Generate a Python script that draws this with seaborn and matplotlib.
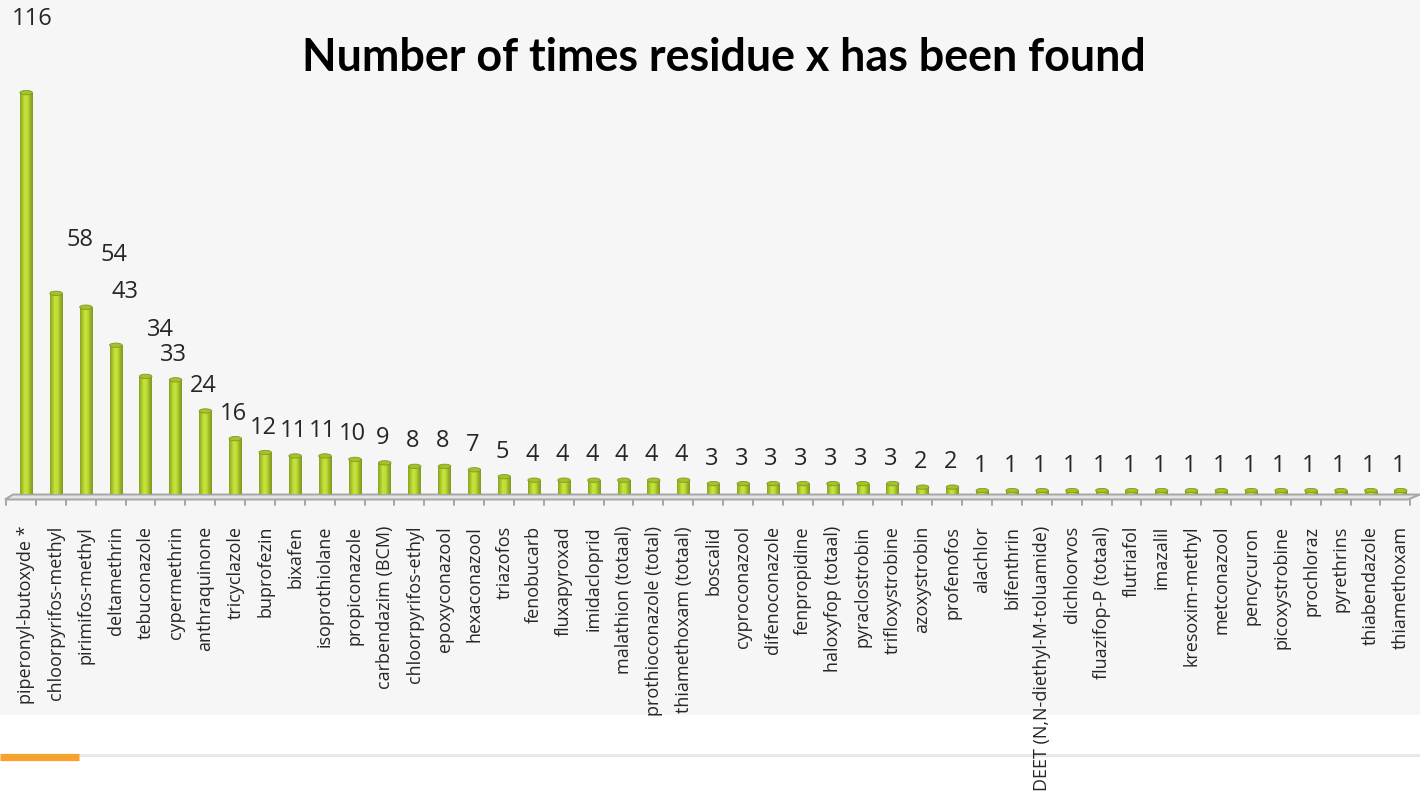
import numpy as np
import pandas as pd
import matplotlib
matplotlib.use("Agg")
import matplotlib.pyplot as plt
from matplotlib.colors import LinearSegmentedColormap
from matplotlib.patches import Ellipse, Polygon, Rectangle
from matplotlib.lines import Line2D
import seaborn as sns

residues = [
    "piperonyl-butoxyde *", "chloorpyrifos-methyl", "pirimifos-methyl", "deltamethrin",
    "tebuconazole", "cypermethrin", "anthraquinone", "tricyclazole", "buprofezin",
    "bixafen", "isoprothiolane", "propiconazole", "carbendazim (BCM)",
    "chloorpyrifos-ethyl", "epoxyconazool", "hexaconazool", "triazofos", "fenobucarb",
    "fluxapyroxad", "imidacloprid", "malathion (totaal)", "prothioconazole (total)",
    "thiamethoxam (totaal)", "boscalid", "cyproconazool", "difenoconazole",
    "fenpropidine", "haloxyfop (totaal)", "pyraclostrobin", "trifloxystrobine",
    "azoxystrobin", "profenofos", "alachlor", "bifenthrin",
    "DEET (N,N-diethyl-M-toluamide)", "dichloorvos", "fluazifop-P (totaal)",
    "flutriafol", "imazalil", "kresoxim-methyl", "metconazool", "pencycuron",
    "picoxystrobine", "prochloraz", "pyrethrins", "thiabendazole", "thiamethoxam",
]
counts = [
    116, 58, 54, 43, 34, 33, 24, 16, 12, 11, 11, 10, 9, 8, 8, 7, 5,
    4, 4, 4, 4, 4, 4,
    3, 3, 3, 3, 3, 3, 3,
    2, 2,
    1, 1, 1, 1, 1, 1, 1, 1, 1, 1, 1, 1, 1, 1, 1,
]
title = "Number of times residue x has been found"

df = pd.DataFrame({"residue": residues, "count": counts})

sns.set_theme(style="white")
plt.rcParams["font.family"] = ["Open Sans", "DejaVu Sans"]

W, H = 1420, 791
fig = plt.figure(figsize=(W / 100, H / 100), dpi=100, facecolor="white")

# light panel behind the chart, plus the footer rule
fig.patches.append(Rectangle((0, 76 / H), 1, 1 - 76 / H, transform=fig.transFigure,
                             facecolor="#f6f6f6", edgecolor="none", zorder=-10))
fig.lines.append(Line2D([78 / W, 1], [1 - 755 / H] * 2, transform=fig.transFigure,
                        color="#e6e8ec", lw=2.2, zorder=-5))
fig.lines.append(Line2D([0, 79 / W], [1 - 756.5 / H] * 2, transform=fig.transFigure,
                        color="#f7a12f", lw=5.2, solid_capstyle="butt", zorder=-5))

n = len(residues)
step_px = 29.88
px_per_unit = 3.46
y_lo, y_hi = -4, 125
x0_px = 26.2 - 0.5 * step_px
ax = fig.add_axes([x0_px / W,
                   (H - (494 - y_lo * px_per_unit)) / H,
                   n * step_px / W,
                   (y_hi - y_lo) * px_per_unit / H])
ax.set_facecolor("none")

sns.barplot(data=df, x="residue", y="count", color="#b8d934", width=0.42,
            saturation=1, ax=ax, zorder=3)

# cylinder shading: horizontal gradient clipped to each bar, elliptical cap on top
cyl = LinearSegmentedColormap.from_list(
    "cyl", ["#86a022", "#a9c92c", "#c9e63f", "#bedc35", "#98b527", "#7f9820"])
grad = np.linspace(0, 1, 64).reshape(1, -1)
for p in list(ax.patches):
    x = p.get_x()
    w = p.get_width()
    h = p.get_height()
    p.set_edgecolor("none")
    im = ax.imshow(grad, extent=[x, x + w, 0, h], aspect="auto", cmap=cyl,
                   origin="lower", zorder=3.1, interpolation="bicubic")
    im.set_clip_path(p)
    ax.add_patch(Ellipse((x + w / 2, h), w, 1.25, facecolor="#a4c22c",
                         edgecolor="#7f9a22", lw=0.6, zorder=3.3))

# value labels above each cylinder; the tallest few are pushed aside
nudge = {0: (0.2, 14.0), 1: (0.8, 8.1), 2: (0.95, 8.0), 3: (0.31, 8.1), 4: (0.5, 6.1)}
for i, v in enumerate(counts):
    dx, dy = nudge.get(i, (-0.07, 0.0))
    ax.text(i + dx, v + 7.2 + dy, str(v), ha="center", va="center",
            fontsize=17, color="#262626", clip_on=False, zorder=5)

# floor of the category axis
def px_x(px):
    return (px - 26.2) / step_px

def px_y(py):
    return (494 - py) / px_per_unit

back_y, front_y, tick_y = px_y(494.5), px_y(499.5), px_y(504.5)
floor = Polygon([(px_x(13), back_y), (px_x(1420), back_y),
                 (px_x(1408), front_y), (px_x(5), front_y)],
                closed=True, facecolor="#e4e4e4", edgecolor="#a6a6a6", lw=1.4,
                zorder=2, clip_on=False)
ax.add_patch(floor)
for k in range(n + 1):
    tx = px_x(6 + k * step_px)
    ax.plot([tx, tx], [front_y, tick_y], color="#a6a6a6", lw=1.4,
            clip_on=False, zorder=2)

ax.set_xlim(-0.5, n - 0.5)
ax.set_ylim(y_lo, y_hi)
ax.set_xlabel("")
ax.set_ylabel("")
ax.set_yticks([])
sns.despine(ax=ax, left=True, bottom=True)
ax.tick_params(axis="x", length=0, pad=13, labelsize=13, labelcolor="#262626")
for lab in ax.get_xticklabels():
    lab.set_rotation(90)
    lab.set_ha("center")
    lab.set_va("top")

fig.text(723.5 / W, 1 - 58 / H, title, ha="center", va="center",
         fontsize=32.3, fontweight="bold", color="black",
         family=["Lato", "DejaVu Sans"])

fig.savefig("out.png", dpi=100, facecolor="white")
